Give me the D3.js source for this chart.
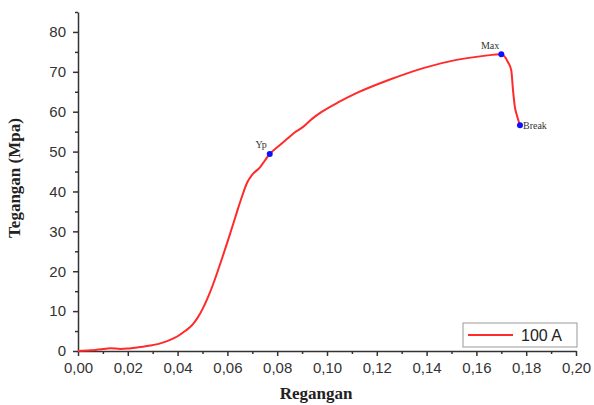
<!DOCTYPE html>
<html>
<head>
<meta charset="utf-8">
<script src="https://cdn.jsdelivr.net/npm/d3@7"></script>
<style>
  body { margin: 0; background: #fff; }
  svg { display: block; }
  .tick text { font-family: "Liberation Sans", Arial, sans-serif; font-size: 15px; fill: #333; }
  .axis path, .axis line { stroke: #333; stroke-width: 1.5; }
</style>
</head>
<body>
<svg id="chart" width="594" height="405"></svg>
<script>
// strain (Regangan) vs stress (Tegangan, MPa)
const strain = [0, 0.005, 0.010, 0.013, 0.017, 0.020, 0.025, 0.029, 0.031, 0.034, 0.037, 0.040, 0.043,
  0.046, 0.048, 0.050, 0.052, 0.054, 0.056, 0.058, 0.060, 0.062, 0.064, 0.066, 0.068, 0.070,
  0.073, 0.077, 0.081, 0.084, 0.087, 0.090, 0.094, 0.098, 0.105, 0.112, 0.125, 0.139,
  0.152, 0.163, 0.170, 0.1727, 0.174, 0.1747, 0.1755, 0.1763, 0.1775];
const stress = [0, 0.2, 0.5, 0.7, 0.5, 0.6, 1.0, 1.4, 1.6, 2.1, 2.8, 3.7, 5.0,
  6.6, 8.3, 10.5, 13.2, 16.3, 19.8, 23.5, 27.3, 31.2, 35.2, 39.0, 42.3, 44.2,
  46.0, 49.4, 51.6, 53.2, 54.8, 56.0, 58.2, 60.0, 62.5, 64.7, 68, 71,
  73, 74, 74.4, 72.4, 70.4, 65.4, 61, 59, 56.6];

const markNames = ["Yp", "Max", "Break"];
const markStrain = [0.077, 0.170, 0.1775];
const markStress = [49.4, 74.4, 56.6];

const xTicks = [0, 0.02, 0.04, 0.06, 0.08, 0.10, 0.12, 0.14, 0.16, 0.18, 0.20];
const xMinor = [0.01, 0.03, 0.05, 0.07, 0.09, 0.11, 0.13, 0.15, 0.17, 0.19];
const yTicks = [0, 10, 20, 30, 40, 50, 60, 70, 80];
const yMinor = [5, 15, 25, 35, 45, 55, 65, 75, 85];
const seriesName = "100 A";

const svg = d3.select('#chart');

const x = d3.scaleLinear().domain([0, 0.2]).range([78, 576]);
const y = d3.scaleLinear().domain([0, 85]).range([351, 12]);

const fmt = d => d3.format('.2f')(d).replace('.', ',');

// x axis, major + minor ticks
svg.append('g').attr('class', 'axis').attr('transform', `translate(0,${y(0)})`)
  .call(d3.axisBottom(x).tickValues(xTicks).tickFormat(fmt).tickSize(5).tickSizeOuter(0).tickPadding(6));
svg.append('g').attr('class', 'axis').attr('transform', `translate(0,${y(0)})`)
  .call(d3.axisBottom(x).tickValues(xMinor).tickFormat('').tickSize(3).tickSizeOuter(0))
  .select('.domain').remove();

// y axis
svg.append('g').attr('class', 'axis').attr('transform', `translate(${x(0)},0)`)
  .call(d3.axisLeft(y).tickValues(yTicks).tickSize(5).tickSizeOuter(0).tickPadding(7));
svg.append('g').attr('class', 'axis').attr('transform', `translate(${x(0)},0)`)
  .call(d3.axisLeft(y).tickValues(yMinor).tickFormat('').tickSize(3).tickSizeOuter(0))
  .select('.domain').remove();

// axis titles
svg.append('text')
  .attr('x', 316).attr('y', 399)
  .attr('text-anchor', 'middle')
  .attr('font-family', '"Liberation Serif", "Times New Roman", serif')
  .attr('font-weight', 'bold').attr('font-size', 17).attr('fill', '#222')
  .text('Regangan');

svg.append('text')
  .attr('transform', 'translate(20,178) rotate(-90)')
  .attr('text-anchor', 'middle')
  .attr('font-family', '"Liberation Serif", "Times New Roman", serif')
  .attr('font-weight', 'bold').attr('font-size', 17).attr('fill', '#222')
  .text('Tegangan (Mpa)');

// curve
const pts = strain.map((s, i) => [s, stress[i]]);

svg.append('path')
  .datum(pts)
  .attr('fill', 'none')
  .attr('stroke', '#ff2a2a')
  .attr('stroke-width', 2)
  .attr('d', d3.line().x(d => x(d[0])).y(d => y(d[1])).curve(d3.curveMonotoneX));

// marked points
const marks = markNames.map((n, i) => ({name: n, s: markStrain[i], v: markStress[i]}));
svg.selectAll('.mark')
  .data(marks)
  .enter().append('circle')
    .attr('class', 'mark')
    .attr('cx', d => x(d.s))
    .attr('cy', d => y(d.v))
    .attr('r', 3)
    .attr('fill', '#1010ff');

const labelPos = {Yp: [-3, -6, 'end'], Max: [-2, -5, 'end'], Break: [3, 4, 'start']};
svg.selectAll('.mlabel')
  .data(marks)
  .enter().append('text')
    .attr('class', 'mlabel')
    .attr('x', d => x(d.s) + labelPos[d.name][0])
    .attr('y', d => y(d.v) + labelPos[d.name][1])
    .attr('text-anchor', d => labelPos[d.name][2])
    .attr('font-family', '"Liberation Serif", "Times New Roman", serif')
    .attr('font-size', 10).attr('fill', '#333')
    .text(d => d.name);

// legend
const lg = svg.append('g').attr('transform', 'translate(463,323)');
lg.append('rect').attr('width', 114).attr('height', 24)
  .attr('fill', '#fff').attr('stroke', '#999').attr('stroke-width', 1);
lg.append('line').attr('x1', 5).attr('x2', 50).attr('y1', 12).attr('y2', 12)
  .attr('stroke', '#ff2a2a').attr('stroke-width', 2);
lg.append('text').attr('x', 58).attr('y', 18)
  .attr('font-family', '"Liberation Sans", Arial, sans-serif')
  .attr('font-size', 16).attr('fill', '#222')
  .text(seriesName);
</script>
</body>
</html>
